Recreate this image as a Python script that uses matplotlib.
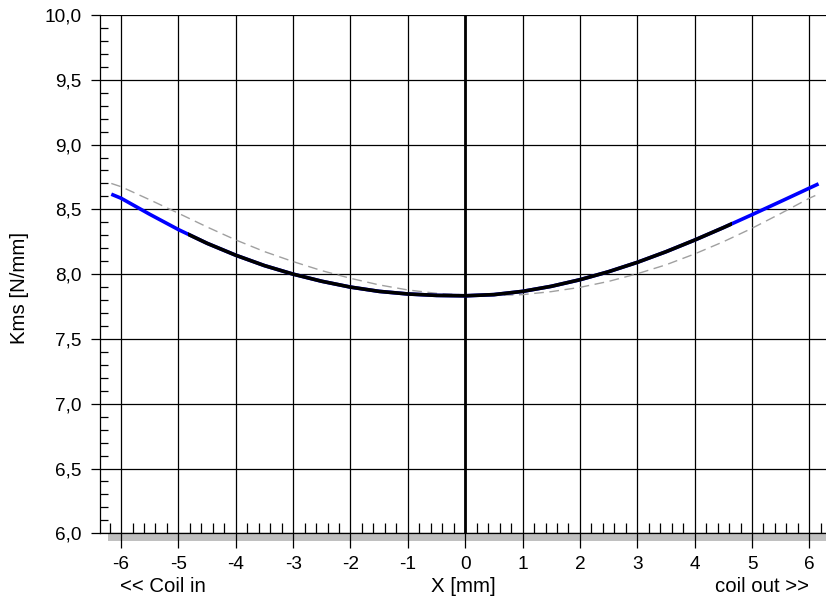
import matplotlib
matplotlib.use('Agg')
import matplotlib.pyplot as plt
from matplotlib.patches import Rectangle
import numpy as np

plt.rcParams['font.family'] = ['Liberation Sans', 'DejaVu Sans']

x_solid = [-6.17, -6.0, -5.5, -5.0, -4.5, -4.0, -3.5, -3.0, -2.5, -2.0, -1.5, -1.0, -0.5,
           0.0, 0.5, 1.0, 1.5, 2.0, 2.5, 3.0, 3.5, 4.0, 4.5, 5.0, 5.5, 6.0, 6.16]
k_solid = [8.617, 8.586, 8.462, 8.344, 8.238, 8.146, 8.066, 8.0, 7.945, 7.90, 7.867, 7.847, 7.836,
           7.833, 7.842, 7.867, 7.906, 7.957, 8.019, 8.091, 8.173, 8.263, 8.359, 8.459, 8.561, 8.664, 8.697]

x_dash = [-6.17, -6.0, -5.5, -5.0, -4.5, -4.0, -3.5, -3.0, -2.5, -2.0, -1.5, -1.0, -0.5,
          0.0, 0.5, 1.0, 1.5, 2.0, 2.5, 3.0, 3.5, 4.0, 4.5, 5.0, 5.5, 6.0, 6.13]
k_dash = [8.70, 8.675, 8.574, 8.47, 8.364, 8.264, 8.174, 8.097, 8.027, 7.968, 7.917, 7.878, 7.852,
          7.839, 7.835, 7.842, 7.865, 7.898, 7.944, 8.003, 8.072, 8.156, 8.25, 8.354, 8.468, 8.586, 8.612]

# range where the solid curve is drawn black instead of blue
black_from, black_to = -4.84, 4.65

xticks = list(range(-6, 7))
xlabels = [str(v) for v in xticks]
yticks = [6.0, 6.5, 7.0, 7.5, 8.0, 8.5, 9.0, 9.5, 10.0]
ylabels = [('%.1f' % v).replace('.', ',') for v in yticks]

fig = plt.figure(figsize=(8.26, 6.01), dpi=100)
ax = fig.add_axes([100/826, 1 - 533.3/601, 1 - 100/826, (533.3 - 15)/601])

ax.set_xlim(-6.367, 6.29)
ax.set_ylim(6.0, 10.0)

ax.set_xticks(xticks)
ax.set_xticklabels(xlabels)
ax.set_xticks(np.arange(-6.2, 6.3, 0.2), minor=True)
ax.set_yticks(yticks)
ax.set_yticklabels(ylabels)
ax.set_yticks(np.arange(6.0, 10.01, 0.1), minor=True)

ax.grid(True, which='major', color='black', linewidth=0.9)
ax.tick_params(axis='x', which='major', direction='out', length=11, width=0.9,
               pad=5, labelsize=13.7)
ax.tick_params(axis='x', which='minor', direction='in', length=7.5, width=0.9)
ax.tick_params(axis='y', which='major', direction='out', length=6.5, width=0.9,
               pad=7, labelsize=13.7)
ax.tick_params(axis='y', which='minor', direction='in', length=6, width=0.9)

for side in ['top', 'right']:
    ax.spines[side].set_visible(False)
ax.spines['left'].set_linewidth(0.9)
ax.spines['bottom'].set_linewidth(0.9)

# gray strip under the x axis
ax.add_patch(Rectangle((-6.23, 5.938), 12.6, 0.062, facecolor='#c0c0c0',
                       edgecolor='none', clip_on=False, zorder=0.5))

ax.axvline(0, color='black', linewidth=2.0, zorder=3)

ax.plot(x_dash, k_dash, color='#a0a0a0', linewidth=1.0, dashes=(7, 4), zorder=4)
ax.plot(x_solid, k_solid, color='#0000ff', linewidth=2.6, zorder=5,
        solid_capstyle='butt', solid_joinstyle='round')
blk, = ax.plot(x_solid, k_solid, color='black', linewidth=2.6, zorder=6,
               solid_capstyle='butt', solid_joinstyle='round')
clip = Rectangle((black_from, 6.0), black_to - black_from, 4.0, transform=ax.transData)
blk.set_clip_path(clip)

fig.text(20/826, 1 - 288/601, 'Kms [N/mm]', rotation=90, ha='center', va='center', fontsize=14.7)
fig.text(463/826, 1 - 587/601, 'X [mm]', ha='center', va='center', fontsize=14.7)
fig.text(120/826, 1 - 587/601, '<< Coil in', ha='left', va='center', fontsize=14.7)
fig.text(809/826, 1 - 587/601, 'coil out >>', ha='right', va='center', fontsize=14.7)

fig.savefig('out.png', dpi=100)
